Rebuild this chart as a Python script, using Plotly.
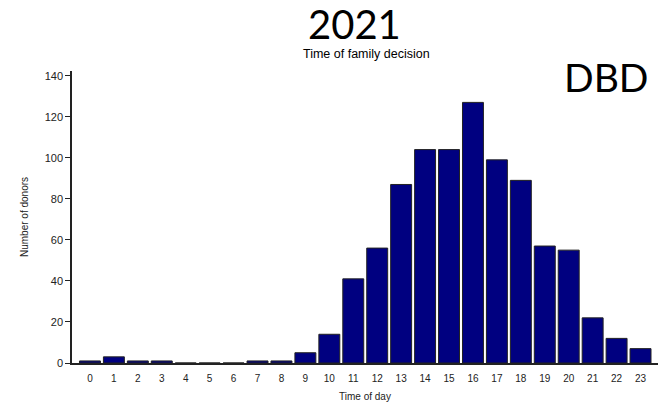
import plotly.graph_objects as go

hours = list(range(24))
donors = [1, 3, 1, 1, 0, 0, 0, 1, 1, 5, 14, 41, 56, 87, 104, 104, 127, 99, 89, 57, 55, 22, 12, 7]
y_ticks = [0, 20, 40, 60, 80, 100, 120, 140]

fig = go.Figure(go.Bar(
    x=hours, y=donors, width=0.875,
    marker=dict(color="#000080", line=dict(color="#222222", width=1)),
))

fig.update_layout(
    width=658, height=409,
    margin=dict(l=72, r=0, t=71, b=46),
    paper_bgcolor="white", plot_bgcolor="white",
    showlegend=False,
    font=dict(family="Liberation Sans, Arial", color="#222222"),
    xaxis=dict(
        range=[-0.75, 23.73], tickmode="array", tickvals=hours,
        ticktext=[str(h) for h in hours], ticks="", showgrid=False,
        showline=True, linecolor="#222222", linewidth=2, zeroline=False,
        ticklabelstandoff=5,
        tickfont=dict(size=10), title=dict(text="Time of day", font=dict(size=10), standoff=10),
    ),
    yaxis=dict(
        range=[0, 142.3], tickvals=y_ticks, ticks="outside", ticklen=5,
        tickcolor="#222222", showgrid=False, showline=True, linecolor="#222222",
        linewidth=1.5, zeroline=False, tickfont=dict(size=11),
        title=dict(text="Number of donors", font=dict(size=10), standoff=14),
    ),
    annotations=[
        dict(text="2021", x=0.5, y=1, xref="paper", yref="paper", xshift=-11,
             yanchor="bottom", yshift=21, showarrow=False,
             font=dict(family="Lato", size=40, color="black")),
        dict(text="Time of family decision", x=0.5, xref="paper", y=1, yref="paper",
             xshift=1, yanchor="bottom", yshift=8, showarrow=False,
             font=dict(size=12.5, color="black")),
        dict(text="DBD", x=1, xref="paper", xanchor="right", xshift=-7, y=1, yref="paper",
             yanchor="top", yshift=19, showarrow=False,
             font=dict(family="Lato", size=39, color="black")),
    ],
)

fig.write_html("out.html", config={"displayModeBar": False},
               post_script="document.body.style.margin='0';document.body.style.overflow='hidden';")
